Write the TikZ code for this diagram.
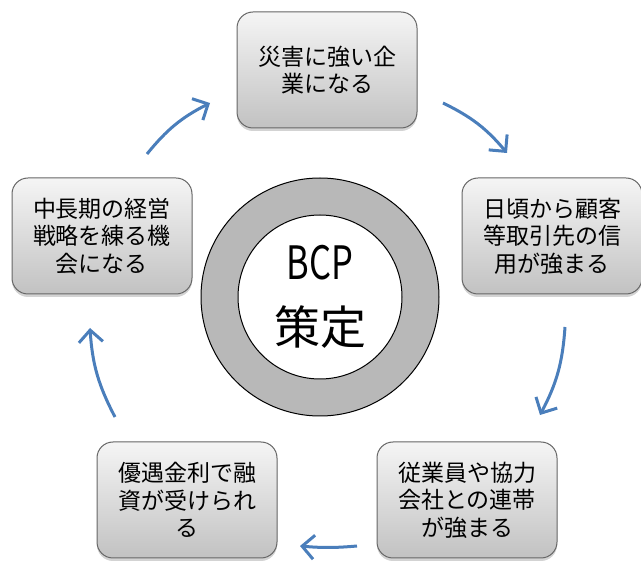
\documentclass[tikz,border=0pt]{standalone}
\usepackage{fontspec}
\usepackage{graphicx}
\newfontfamily\jpfont{Noto Sans CJK JP}
\usetikzlibrary{positioning,arrows.meta,shadows}
\definecolor{cycblue}{RGB}{74,126,187}

\begin{document}
\begin{tikzpicture}[x=1pt,y=1pt,
  goal/.style={draw=black!60,line width=1pt,rounded corners=16pt,
    top color=black!4,bottom color=black!24,
    minimum width=180pt,minimum height=116pt,align=center,
    font=\jpfont\fontsize{23}{27.5}\selectfont,text=black,
    drop shadow={shadow xshift=0pt,shadow yshift=-3pt,opacity=.35}},
  cyc/.style={draw=cycblue,line width=3pt,-{Straight Barb[length=12pt,width=24pt]}}]

\useasboundingbox (0,0) rectangle (641,563);

% the five effects
\node[goal] (disaster) at (327,493) {災害に強い企\\業になる};
\node[goal] (trust) at (552,327) {日頃から顧客\\等取引先の信\\用が強まる};
\node[goal] (staff) at (467,63) {従業員や協力\\会社との連帯\\が強まる};
\node[goal] (loan) at (187,63) {優遇金利で融\\資が受けられ\\る};
\node[goal] (plan) at (102,327) {中長期の経営\\戦略を練る機\\会になる};

% centre ring
\node[circle,draw,line width=1pt,fill=black!28,minimum size=238pt] (ring) at (320,266) {};
\node[circle,draw,line width=1pt,fill=white,minimum size=164pt,align=center,
  font=\jpfont\fontsize{46}{65}\selectfont] (bcp) at (ring) {\scalebox{.75}[1]{BCP}\\策定};

% arrow ends
\coordinate (p1) at (147,409);
\coordinate (q1) at (210,460);
\coordinate (p2) at (443,460);
\coordinate (q2) at (507,410);
\coordinate (p3) at (565,236);
\coordinate (q3) at (540,148);
\coordinate (p4) at (357,17);
\coordinate (q4) at (300,17);
\coordinate (p5) at (115,146);
\coordinate (q5) at (90,235);

\draw[cyc](p1)to[bend left=12](q1);
\draw[cyc](p2)to[bend left=12](q2);
\draw[cyc](p3)to[bend left=12](q3);
\draw[cyc](p4)to[bend left=5](q4);
\draw[cyc](p5)to[bend left=12](q5);
\end{tikzpicture}
\end{document}
